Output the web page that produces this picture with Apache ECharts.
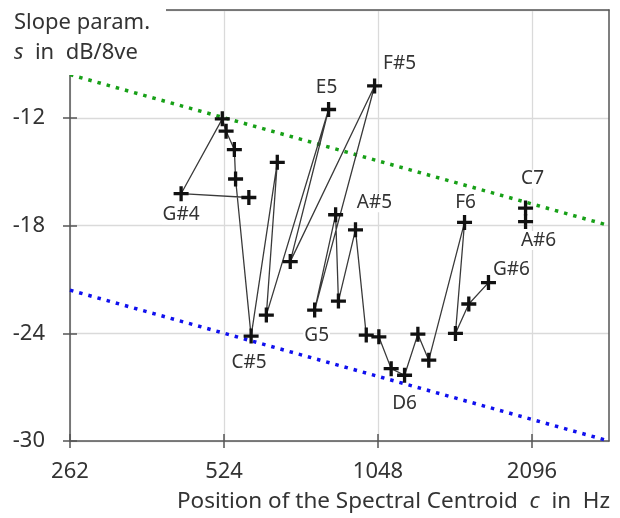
<!DOCTYPE html>
<html>
<head>
<meta charset="utf-8">
<script src="https://cdn.jsdelivr.net/npm/echarts@6/dist/echarts.min.js"></script>
<style>
  html, body { margin: 0; padding: 0; background: #fff; }
  #chart { width: 620px; height: 518px; }
</style>
</head>
<body>
<div id="chart"></div>
<script>
// Chromatic notes from G4 to C7 (A6 and B6 not measured)
const notes = ['G4','G#4','A4','A#4','B4','C5','C#5','D5','D#5','E5','F5','F#5','G5','G#5','A5',
               'A#5','B5','C6','C#6','D6','D#6','E6','F6','F#6','G6','G#6','A6','A#6','B6','C7'];
// Spectral centroid position c (Hz)
const centroidHz = [586, 432, 520, 529, 549, 552, 592, 666, 634, 839, 706, 1032, 788, 866, 877,
                    947, 994, 1052, 1112, 1181, 1254, 1317, 1547, 1485, 1577, 1723, null, 2036, null, 2036];
// Slope parameter s (dB/octave)
const slopeDb = [-16.44, -16.23, -12.06, -12.75, -13.77, -15.41, -24.16, -14.48, -22.99, -11.54, -20.01, -10.23, -22.71, -17.40, -22.21,
                 -18.24, -24.10, -24.20, -25.97, -26.34, -24.05, -25.50, -17.83, -24.01, -22.37, -21.18, null, -17.78, null, -17.03];
// Notes that carry a name tag
const labelledNotes = ['G#4','C#5','E5','F#5','G5','A#5','D6','F6','G#6','A#6','C7'];

// Bounding trend lines (dotted)
const upperBound = [[262, -9.6], [2964, -18]];
const lowerBound = [[262, -21.6], [2964, -30]];

// Axis ticks
const xTicks = [262, 524, 1048, 2096];
const xRange = [262, 2964];
const yRange = [-30, -6];
const yStep = 6;

const FONT = '"Noto Sans", sans-serif';
const TEXT = '#333';
const AXIS = '#555';
const GRID = '#dadada';

// name tag placement around each labelled point [dx, dy]
const tagOffset = {
  'G#4': [0, 21], 'C#5': [-2, 26], 'G5': [2, 26], 'D6': [0, 28],
  'E5': [-2, -22], 'F#5': [25, -22], 'A#5': [19, -27], 'F6': [1, -20],
  'C7': [7, -29], 'A#6': [13, 19], 'G#6': [23, -13]
};

const plus = 'path://M3.9,0h2.2v3.9h3.9v2.2h-3.9v3.9h-2.2v-3.9h-3.9v-2.2h3.9z';

const noteData = notes.map((n, i) => {
  if (centroidHz[i] == null || slopeDb[i] == null) return ['-', '-'];
  const item = { name: n, value: [centroidHz[i], slopeDb[i]] };
  if (labelledNotes.includes(n)) {
    item.label = {
      show: true,
      position: 'inside',
      offset: tagOffset[n],
      formatter: n,
      color: TEXT,
      fontFamily: FONT,
      fontSize: 19,
      backgroundColor: '#fff',
      padding: [0, 1],
      align: 'center',
      verticalAlign: 'middle'
    };
  }
  return item;
});

function logAxis(extra) {
  return Object.assign({
    type: 'log', logBase: 2, min: xRange[0], max: xRange[1],
    gridIndex: 0,
    axisLine: { show: false },
    axisTick: { show: false },
    axisLabel: { show: false },
    splitLine: { show: false }
  }, extra);
}
function valAxis(extra) {
  return Object.assign({
    type: 'value', min: yRange[0], max: yRange[1], interval: yStep,
    gridIndex: 0,
    axisLine: { show: false },
    axisTick: { show: false },
    axisLabel: { show: false },
    splitLine: { show: false }
  }, extra);
}

const lineStyleAxis = { color: AXIS, width: 1.5 };

const chart = echarts.init(document.getElementById('chart'), null, { renderer: 'canvas' });
chart.setOption({
  animation: false,
  backgroundColor: '#fff',
  grid: { left: 70, right: 11, top: 10, bottom: 77, containLabel: false },
  xAxis: [
    logAxis({
      position: 'bottom',
      axisLine: { show: true, lineStyle: lineStyleAxis },
      axisTick: { show: true, length: 7, customValues: xTicks, lineStyle: lineStyleAxis },
      axisLabel: { show: true, customValues: xTicks, fontSize: 22, fontFamily: FONT, color: TEXT, margin: 20,
                   formatter: v => String(Math.round(v)) },
      splitLine: { show: true, lineStyle: { color: GRID, width: 1.3 } }
    }),
    logAxis({
      position: 'bottom',
      axisTick: { show: true, inside: true, length: 7, customValues: xTicks, lineStyle: lineStyleAxis }
    }),
    logAxis({
      position: 'top',
      axisLine: { show: true, lineStyle: lineStyleAxis }
    })
  ],
  yAxis: [
    valAxis({
      position: 'left',
      axisLine: { show: true, lineStyle: lineStyleAxis },
      axisTick: { show: true, length: 7, lineStyle: lineStyleAxis },
      axisLabel: { show: true, fontSize: 22, fontFamily: FONT, color: TEXT, margin: 25,
                   formatter: v => (v === yRange[1] ? '' : String(v)) },
      splitLine: { show: true, lineStyle: { color: GRID, width: 1.3 } }
    }),
    valAxis({
      position: 'left',
      axisTick: { show: true, inside: true, length: 7, lineStyle: lineStyleAxis }
    }),
    valAxis({
      position: 'right',
      axisLine: { show: true, lineStyle: lineStyleAxis }
    })
  ],
  series: [
    {
      type: 'line',
      data: upperBound,
      symbol: 'none',
      silent: true,
      z: 1,
      lineStyle: { color: '#17a017', width: 3.5, type: [3.5, 6] }
    },
    {
      type: 'line',
      data: lowerBound,
      symbol: 'none',
      silent: true,
      z: 1,
      lineStyle: { color: '#1010ee', width: 3.5, type: [3.5, 6] }
    },
    {
      type: 'line',
      data: noteData,
      connectNulls: false,
      symbol: plus,
      symbolSize: 15,
      itemStyle: { color: '#111' },
      lineStyle: { color: '#3a3a3a', width: 1.3 },
      z: 3
    }
  ],
  graphic: [
    {
      type: 'rect',
      left: 0, top: 0,
      shape: { width: 166, height: 75 },
      style: { fill: '#fff' },
      z: 50
    },
    {
      type: 'text',
      left: 14, top: 12,
      z: 51,
      style: { text: 'Slope param.', font: '22px ' + FONT, fill: TEXT }
    },
    {
      type: 'text',
      left: 14, top: 42,
      z: 51,
      style: {
        text: '{i|s}  in  dB/8ve',
        font: '22px ' + FONT,
        fill: TEXT,
        rich: { i: { fontStyle: 'italic', fontSize: 22, fontFamily: FONT, fill: TEXT } }
      }
    },
    {
      type: 'text',
      left: 177, top: 490,
      z: 51,
      style: {
        text: 'Position of the Spectral Centroid  {i|c}  in  Hz',
        font: '22.5px ' + FONT,
        fill: TEXT,
        rich: { i: { fontStyle: 'italic', fontSize: 22.5, fontFamily: FONT, fill: TEXT } }
      }
    }
  ]
});
</script>
</body>
</html>
